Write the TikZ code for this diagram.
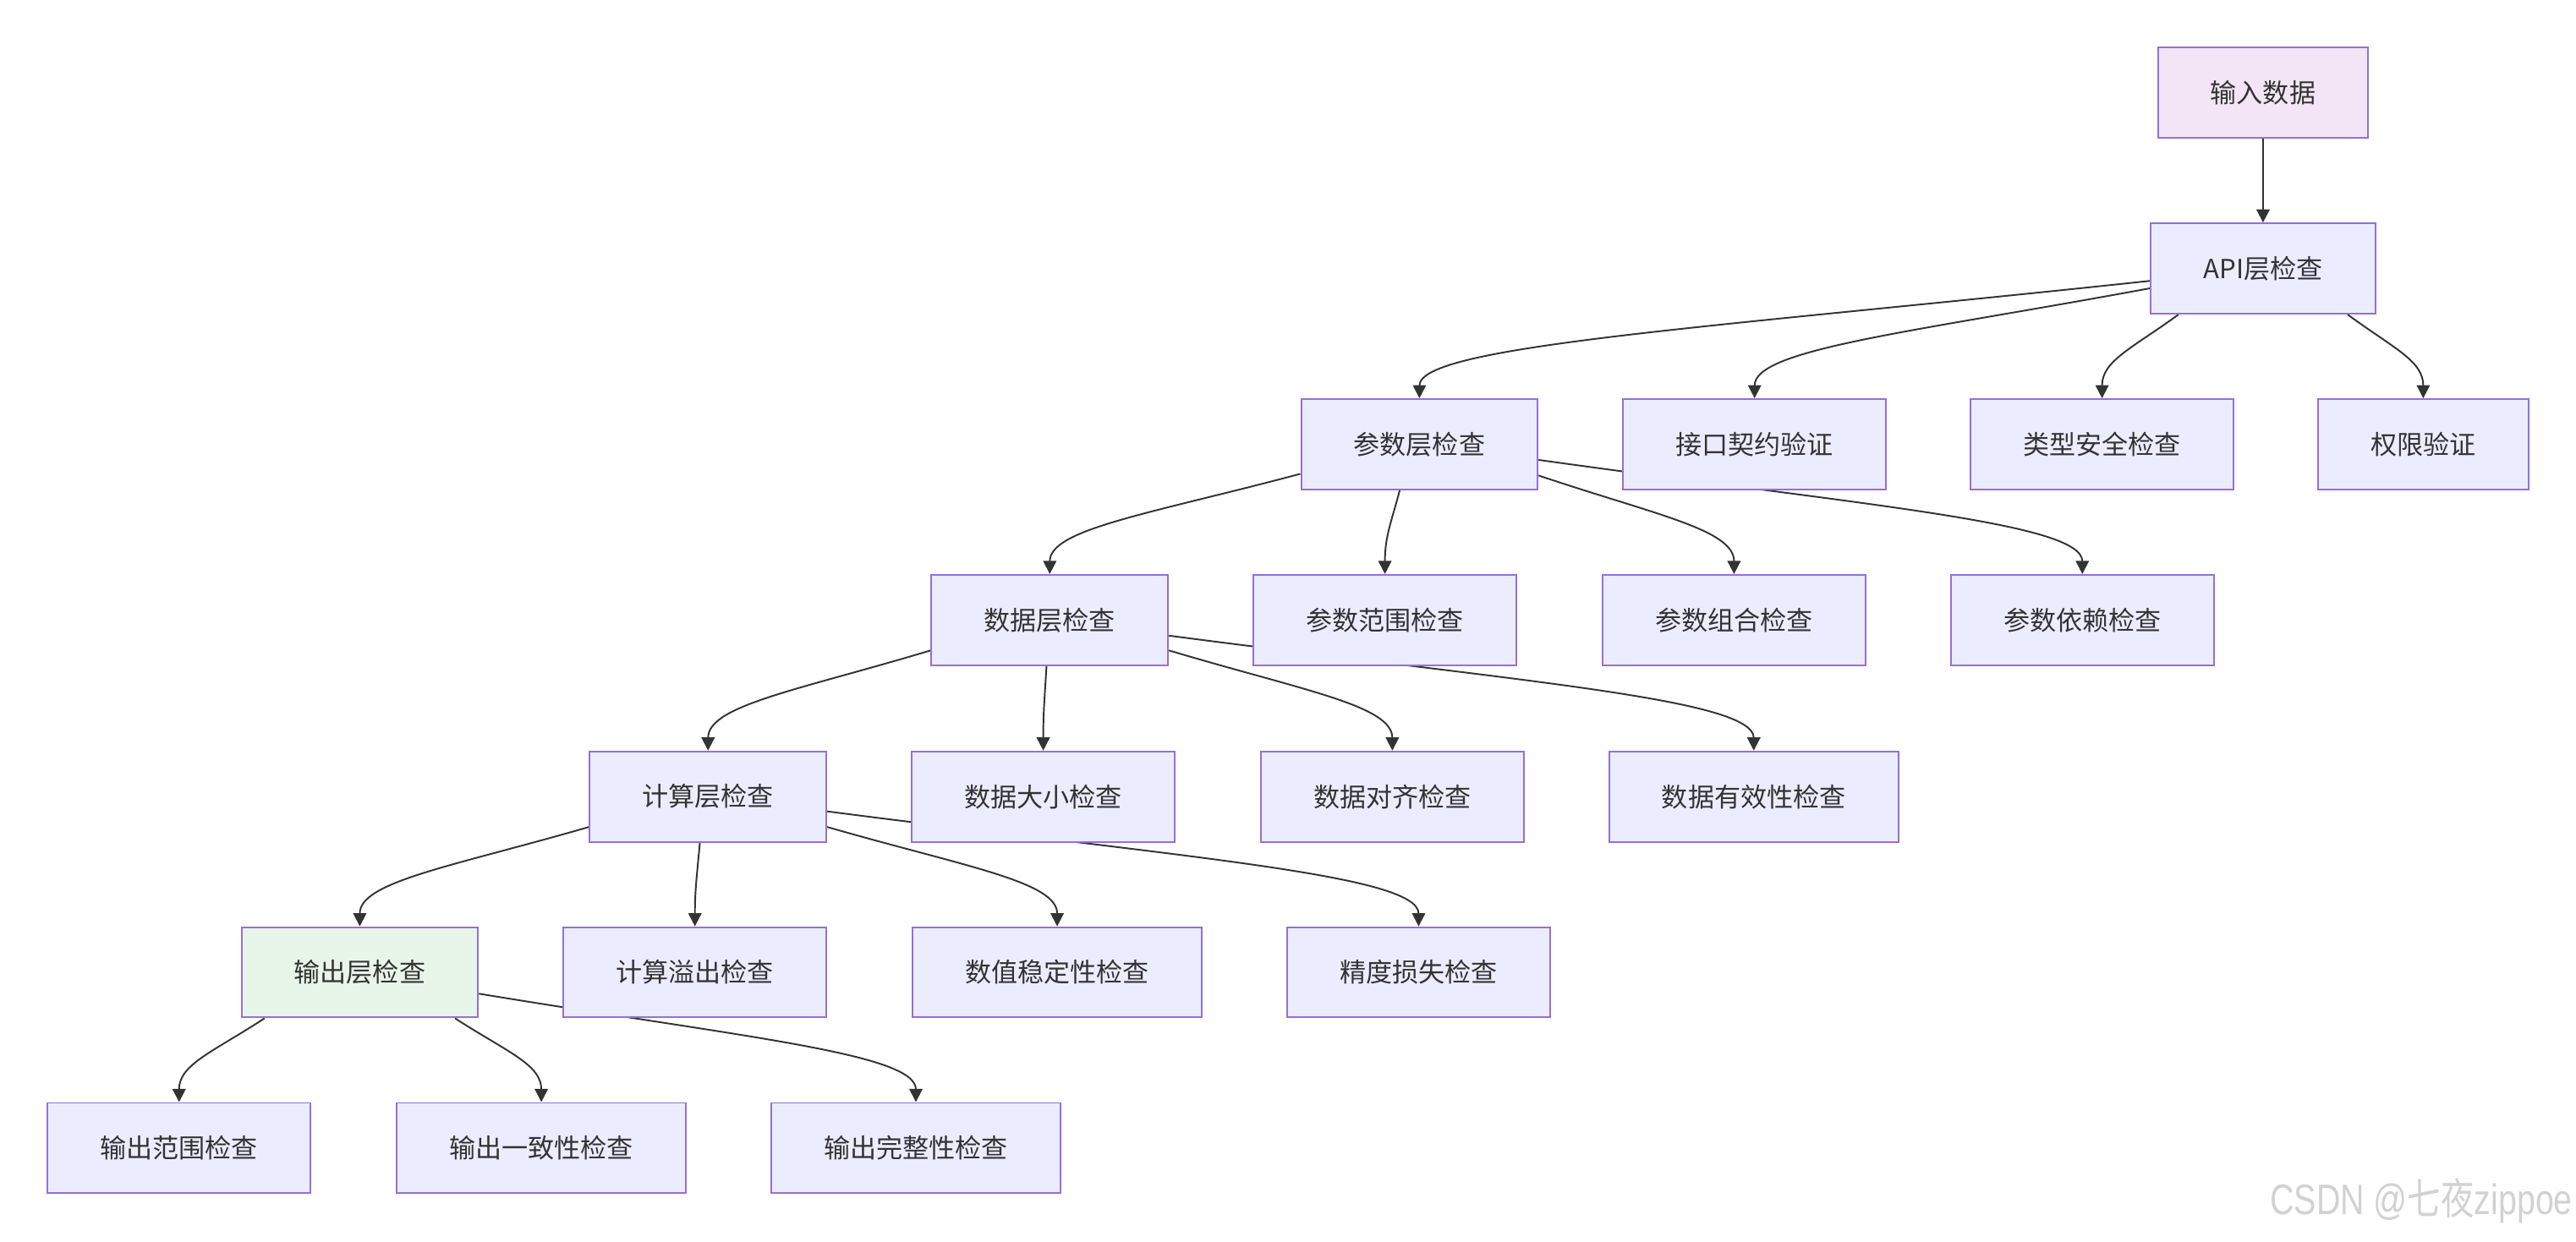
\documentclass[tikz,border=0pt]{standalone}
\usepackage{fontspec}
\setmainfont{Noto Sans CJK SC}
\newfontfamily\wmfont{Liberation Sans}
\newfontfamily\wmcjk{Noto Sans CJK SC}
\usetikzlibrary{arrows.meta,calc}
\definecolor{boxfill}{HTML}{ECECFF}
\definecolor{boxline}{HTML}{9370DB}
\definecolor{infill}{HTML}{F3E5F5}
\definecolor{outfill}{HTML}{E8F5E9}
\definecolor{edgecol}{HTML}{333333}
\definecolor{txt}{HTML}{333333}
\definecolor{wmgray}{HTML}{D2D2D2}
\pgfdeclarelayer{background}
\pgfsetlayers{background,main}
\begin{document}
\begin{tikzpicture}[x=1pt,y=-1pt,
  box/.style={draw=boxline, fill=boxfill, line width=1pt, minimum height=55pt,
    inner xsep=32pt, inner ysep=0pt, text=txt, font=\fontsize{16pt}{19pt}\selectfont},
  edge/.style={draw=edgecol, line width=1pt, -{Triangle[length=8pt,width=8pt]}},
  curv/.style={to path={let \p1=(\tikztostart), \p2=(\tikztotarget) in
    .. controls ({\x1+0.6*(\x2-\x1)},{\y1+0.4*(\y2-\y1)}) and ({\x2},{\y2+0.45*(\y1-\y2)}) .. (\tikztotarget)}}
]
\useasboundingbox (0,0) rectangle (1568,755.7);
% nodes
\node[box, fill=infill] (in) at (1377.5,56.5) {输入数据};
\node[box] (api) at (1377.5,163.5) {API层检查};
\node[box] (param) at (864,270.5) {参数层检查};
\node[box] (contract) at (1068,270.5) {接口契约验证};
\node[box] (typesafe) at (1279.5,270.5) {类型安全检查};
\node[box] (perm) at (1475,270.5) {权限验证};
\node[box] (data) at (639,377.5) {数据层检查};
\node[box] (prange) at (843,377.5) {参数范围检查};
\node[box] (pcomb) at (1055.5,377.5) {参数组合检查};
\node[box] (pdep) at (1267.5,377.5) {参数依赖检查};
\node[box] (comp) at (431,485) {计算层检查};
\node[box] (dsize) at (635,485) {数据大小检查};
\node[box] (dalign) at (847.5,485) {数据对齐检查};
\node[box] (dvalid) at (1067.5,485) {数据有效性检查};
\node[box, fill=outfill] (out) at (219,592) {输出层检查};
\node[box] (overflow) at (423,592) {计算溢出检查};
\node[box] (stab) at (643.5,592) {数值稳定性检查};
\node[box] (prec) at (863.5,592) {精度损失检查};
\node[box] (orange) at (109,699) {输出范围检查};
\node[box] (ocons) at (329.5,699) {输出一致性检查};
\node[box] (ocomp) at (557.5,699) {输出完整性检查};
\node[anchor=east, text=wmgray, inner sep=0pt, xscale=0.78, font=\fontsize{26pt}{30pt}\selectfont] (wm) at (1566,731) {\wmfont CSDN @\wmcjk 七夜\wmfont zippoe};
% edges
\begin{pgfonlayer}{background}
\fill[white] (0,0) rectangle (1568,755.7);
\draw[edge] (in.south) -- (api.north);
\draw[edge] ([yshift=-7.5pt]api.west) to[curv] (param.north);
\draw[edge] ([yshift=-12pt]api.west) to[curv] (contract.north);
\draw[edge] ([xshift=-51.5pt]api.south) to[curv] (typesafe.north);
\draw[edge] ([xshift=51.5pt]api.south) to[curv] (perm.north);
\draw[edge] ([yshift=-18pt]param.west) to[curv] (data.north);
\draw[edge] ([xshift=-12pt]param.south) to[curv] (prange.north);
\draw[edge] ([yshift=-19pt]param.east) to[curv] (pcomb.north);
\draw[edge] ([yshift=-9.5pt]param.east) to[curv] (pdep.north);
\draw[edge] ([yshift=-18.5pt]data.west) to[curv] (comp.north);
\draw[edge] ([xshift=-2pt]data.south) to[curv] (dsize.north);
\draw[edge] ([yshift=-18.5pt]data.east) to[curv] (dalign.north);
\draw[edge] ([yshift=-9.5pt]data.east) to[curv] (dvalid.north);
\draw[edge] ([yshift=-18.5pt]comp.west) to[curv] (out.north);
\draw[edge] ([xshift=-5pt]comp.south) to[curv] (overflow.north);
\draw[edge] ([yshift=-18.5pt]comp.east) to[curv] (stab.north);
\draw[edge] ([yshift=-9pt]comp.east) to[curv] (prec.north);
\draw[edge] ([xshift=-58pt]out.south) to[curv] (orange.north);
\draw[edge] ([xshift=58pt]out.south) to[curv] (ocons.north);
\draw[edge] ([yshift=-13pt]out.east) to[curv] (ocomp.north);
\end{pgfonlayer}
\end{tikzpicture}
\end{document}
